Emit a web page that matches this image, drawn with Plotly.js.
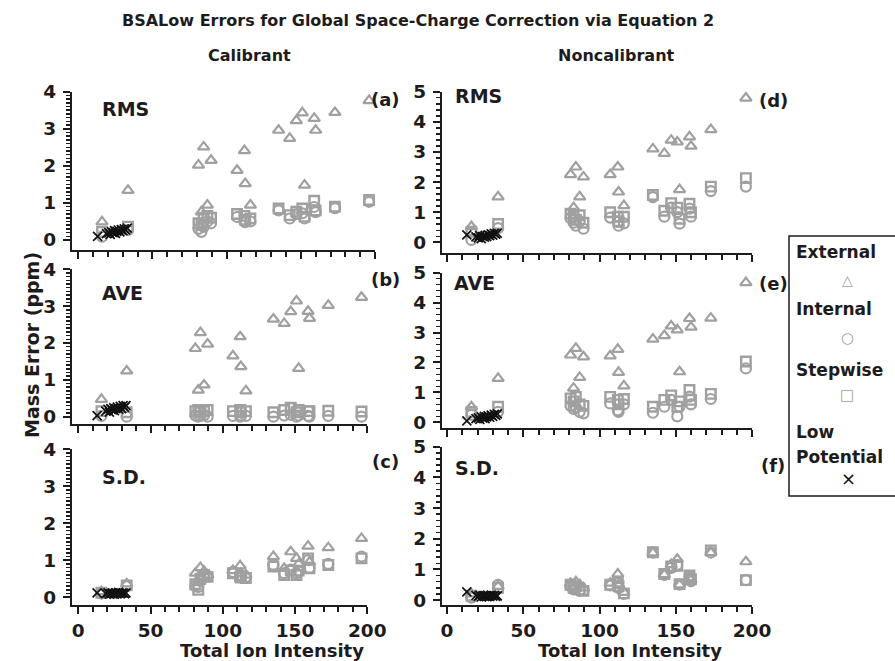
<!DOCTYPE html>
<html>
<head>
<meta charset="utf-8">
<script src="https://cdn.plot.ly/plotly-3.0.1.min.js"></script>
<style>html,body{margin:0;padding:0;background:#fff;}#chart{width:895px;height:661px;}</style>
</head>
<body>
<div id="chart"></div>
<script>
// ---------------- DATA ----------------
// Total ion intensity of each spectrum (shared by External / Internal / Stepwise)
const intensity = [16, 33.5, 81, 83, 84.5, 87, 89.5, 107, 112, 112.5, 116, 135, 142.5, 147, 151, 152.5, 159, 160, 173, 196];
// Low-potential spectra intensities
const lowX = [13, 19, 20.5, 21.5, 22.5, 23.5, 24.5, 25, 26, 27, 28, 29, 30, 31, 32, 33];

// Calibrant
const extRMS_cal = [0.49, 1.34, 2.02, 0.76, 2.51, 0.94, 2.15, 1.88, 2.41, 1.52, 0.94, 2.96, 2.74, 3.22, 3.43, 1.48, 3.28, 2.96, 3.44, 3.76];
const intRMS_cal = [0.09, 0.27, 0.30, 0.22, 0.35, 0.50, 0.45, 0.62, 0.50, 0.48, 0.50, 0.80, 0.58, 0.70, 0.72, 0.58, 0.89, 0.75, 0.86, 1.03];
const stpRMS_cal = [0.22, 0.36, 0.45, 0.40, 0.60, 0.65, 0.60, 0.70, 0.65, 0.55, 0.58, 0.85, 0.67, 0.76, 0.85, 0.63, 1.06, 0.80, 0.90, 1.08];
const lowRMS_cal = [0.10, 0.17, 0.20, 0.15, 0.22, 0.20, 0.25, 0.18, 0.23, 0.27, 0.22, 0.28, 0.25, 0.30, 0.27, 0.32];

const extAVE_cal = [0.47, 1.24, 1.85, 0.72, 2.28, 0.86, 1.97, 1.65, 2.17, 1.36, 0.70, 2.65, 2.53, 2.85, 3.14, 1.31, 2.86, 2.67, 3.02, 3.24];
const intAVE_cal = [0.02, 0.00, 0.03, 0.00, 0.02, 0.04, 0.00, 0.02, 0.00, 0.03, 0.02, 0.00, 0.03, 0.05, 0.00, 0.03, 0.02, 0.00, 0.02, 0.00];
const stpAVE_cal = [0.15, 0.12, 0.15, 0.18, 0.12, 0.15, 0.18, 0.15, 0.18, 0.12, 0.15, 0.12, 0.18, 0.24, 0.12, 0.18, 0.15, 0.15, 0.16, 0.14];
const lowAVE_cal = [0.03, 0.15, 0.20, 0.12, 0.22, 0.18, 0.24, 0.16, 0.22, 0.26, 0.20, 0.28, 0.22, 0.30, 0.25, 0.30];

const extSD_cal = [0.15, 0.36, 0.65, 0.40, 0.80, 0.70, 0.60, 0.72, 0.85, 0.65, 0.60, 1.10, 0.78, 1.23, 1.05, 0.90, 1.38, 0.95, 1.34, 1.59];
const intSD_cal = [0.10, 0.30, 0.30, 0.28, 0.45, 0.55, 0.58, 0.68, 0.60, 0.55, 0.55, 0.88, 0.65, 0.75, 0.65, 0.70, 1.00, 0.80, 0.90, 1.10];
const stpSD_cal = [0.12, 0.32, 0.35, 0.20, 0.50, 0.60, 0.55, 0.65, 0.55, 0.53, 0.52, 0.83, 0.60, 0.72, 0.60, 0.72, 1.05, 0.78, 0.87, 1.05];
const lowSD_cal = [0.12, 0.10, 0.12, 0.08, 0.10, 0.12, 0.10, 0.08, 0.12, 0.10, 0.13, 0.09, 0.11, 0.12, 0.10, 0.12];

// Noncalibrant
const extRMS_non = [0.52, 1.51, 2.25, 1.15, 2.50, 1.51, 2.17, 2.25, 2.50, 1.67, 1.22, 3.10, 2.95, 3.39, 3.33, 1.75, 3.50, 3.19, 3.74, 4.79];
const intRMS_non = [0.08, 0.47, 0.80, 0.65, 0.55, 0.70, 0.45, 0.82, 0.68, 0.55, 0.63, 1.50, 0.85, 1.15, 1.00, 0.62, 1.12, 0.85, 1.70, 1.85];
const stpRMS_non = [0.35, 0.61, 0.95, 0.85, 0.75, 0.90, 0.65, 1.00, 0.85, 0.70, 0.85, 1.57, 1.05, 1.30, 1.15, 0.78, 1.28, 1.00, 1.85, 2.13];
const lowRMS_non = [0.25, 0.18, 0.15, 0.22, 0.12, 0.20, 0.17, 0.23, 0.19, 0.25, 0.22, 0.28, 0.24, 0.30, 0.27, 0.30];

const extAVE_non = [0.52, 1.47, 2.25, 1.14, 2.47, 1.50, 2.19, 2.22, 2.44, 1.67, 1.22, 2.78, 2.90, 3.22, 3.09, 1.69, 3.47, 3.18, 3.48, 4.67];
const intAVE_non = [0.25, 0.35, 0.55, 0.45, 0.50, 0.35, 0.30, 0.63, 0.40, 0.35, 0.60, 0.32, 0.52, 0.75, 0.20, 0.52, 0.86, 0.60, 0.78, 1.80];
const stpAVE_non = [0.35, 0.52, 0.80, 0.70, 0.85, 0.60, 0.55, 0.85, 0.75, 0.60, 0.78, 0.52, 0.75, 0.90, 0.52, 0.70, 1.08, 0.75, 0.95, 2.03];
const lowAVE_non = [0.05, 0.12, 0.15, 0.10, 0.18, 0.14, 0.20, 0.12, 0.18, 0.22, 0.17, 0.24, 0.20, 0.27, 0.23, 0.28];

const extSD_non = [0.20, 0.45, 0.55, 0.45, 0.60, 0.50, 0.40, 0.55, 0.85, 0.50, 0.25, 1.54, 0.83, 1.16, 1.33, 0.50, 0.72, 0.66, 1.55, 1.25];
const intSD_non = [0.08, 0.50, 0.45, 0.35, 0.40, 0.30, 0.32, 0.48, 0.55, 0.40, 0.20, 1.55, 0.82, 1.05, 1.15, 0.50, 0.75, 0.62, 1.55, 0.65];
const stpSD_non = [0.14, 0.40, 0.50, 0.40, 0.45, 0.35, 0.30, 0.50, 0.60, 0.45, 0.22, 1.56, 0.85, 1.10, 1.12, 0.52, 0.80, 0.68, 1.62, 0.65];
const lowSD_non = [0.27, 0.15, 0.12, 0.16, 0.10, 0.14, 0.12, 0.15, 0.11, 0.14, 0.12, 0.16, 0.13, 0.15, 0.12, 0.14];

const seriesNames = ["External", "Internal", "Stepwise", "Low Potential"];
const panelStats = ["RMS", "AVE", "S.D."];
const panelTags = ["(a)", "(b)", "(c)", "(d)", "(e)", "(f)"];
const xTickVals = [0, 50, 100, 150, 200];

// ---------------- LAYOUT ----------------
const W = 895, H = 661;
const fx = p => p / W;
const fy = p => 1 - p / H;
const FONT = "DejaVu Sans";
const INK = "#1e1b1c";
const GREY = "#a0a0a0";

const panels = [
  {ext: extRMS_cal, int: intRMS_cal, stp: stpRMS_cal, low: lowRMS_cal, xd: [71.7, 375], xr: [-4.45, 200], yd: [91.7, 250], yr: [-0.27, 4], top: 4, minor: 0.1, labels: false},
  {ext: extAVE_cal, int: intAVE_cal, stp: stpAVE_cal, low: lowAVE_cal, xd: [71.7, 367.3], xr: [-4.57, 200], yd: [269.3, 424], yr: [-0.2, 4], top: 4, minor: 0.1, labels: false},
  {ext: extSD_cal,  int: intSD_cal,  stp: stpSD_cal,  low: lowSD_cal,  xd: [71.7, 367.3], xr: [-4.57, 200], yd: [449.3, 605], yr: [-0.21, 4], top: 4, minor: 0.1, labels: true},
  {ext: extRMS_non, int: intRMS_non, stp: stpRMS_non, low: lowRMS_non, xd: [441.7, 752], xr: [-3.48, 200], yd: [91.7, 253], yr: [-0.355, 5], top: 5, minor: 0.2, labels: false},
  {ext: extAVE_non, int: intAVE_non, stp: stpAVE_non, low: lowAVE_non, xd: [441.7, 752], xr: [-3.48, 200], yd: [272.7, 428.3], yr: [-0.2, 5], top: 5, minor: 0.2, labels: false},
  {ext: extSD_non,  int: intSD_non,  stp: stpSD_non,  low: lowSD_non,  xd: [441.7, 752], xr: [-3.48, 200], yd: [446.7, 605], yr: [-0.16, 5], top: 5, minor: 0.2, labels: true}
];

const traces = [];
const layout = {
  width: W, height: H,
  margin: {l: 0, r: 0, t: 0, b: 0},
  paper_bgcolor: "#ffffff", plot_bgcolor: "rgba(0,0,0,0)",
  showlegend: false,
  font: {family: FONT, color: INK},
  annotations: [], shapes: []
};

const tickFont = {family: FONT, size: 18.5, color: INK, weight: "bold"};

panels.forEach((p, i) => {
  const n = i + 1;
  const xa = n === 1 ? "x" : "x" + n;
  const ya = n === 1 ? "y" : "y" + n;
  const common = {xaxis: xa, yaxis: ya, mode: "markers", type: "scatter", hoverinfo: "skip", cliponaxis: false};
  traces.push(Object.assign({}, common, {name: seriesNames[0], x: intensity, y: p.ext,
    marker: {symbol: "triangle-up-open", size: 10, color: GREY, line: {width: 2.2, color: GREY}}}));
  traces.push(Object.assign({}, common, {name: seriesNames[1], x: intensity, y: p.int,
    marker: {symbol: "circle-open", size: 10, color: GREY, line: {width: 2.2, color: GREY}}}));
  traces.push(Object.assign({}, common, {name: seriesNames[2], x: intensity, y: p.stp,
    marker: {symbol: "square-open", size: 9.5, color: GREY, line: {width: 2.4, color: GREY}}}));
  traces.push(Object.assign({}, common, {name: seriesNames[3], x: lowX, y: p.low,
    marker: {symbol: "x-thin-open", size: 9, color: "#111", line: {width: 1.7, color: "#111"}}}));

  const minorVals = [];
  for (let k = 1; k * p.minor < p.top - 1e-9; k++) {
    const v = +(k * p.minor).toFixed(3);
    if (Math.abs(v - Math.round(v)) > 1e-6) minorVals.push(v);
  }
  const majorVals = [];
  for (let k = 0; k <= p.top; k++) majorVals.push(k);

  layout[n === 1 ? "xaxis" : "xaxis" + n] = {
    domain: [fx(p.xd[0]), fx(p.xd[1])], range: p.xr, anchor: ya,
    showgrid: false, zeroline: false, showline: true, linecolor: INK, linewidth: 2,
    tickmode: "array", tickvals: xTickVals, ticktext: xTickVals.map(String),
    showticklabels: p.labels,
    ticks: "outside", ticklen: 7, tickwidth: 2, tickcolor: INK,
    tickfont: tickFont, ticklabelstandoff: 1,
    minor: {dtick: 10, tick0: 0, ticks: "outside", ticklen: 5, tickwidth: 2, tickcolor: INK, showgrid: false},
    fixedrange: true
  };
  layout[n === 1 ? "yaxis" : "yaxis" + n] = {
    domain: [fy(p.yd[1]), fy(p.yd[0])], range: p.yr, anchor: xa,
    showgrid: false, zeroline: false, showline: true, linecolor: INK, linewidth: 2,
    tickmode: "array", tickvals: majorVals, ticktext: majorVals.map(String),
    ticks: "outside", ticklen: 7, tickwidth: 2, tickcolor: INK,
    tickfont: tickFont, ticklabelstandoff: 3,
    minor: {tickmode: "array", tickvals: minorVals, ticks: "outside", ticklen: 4, tickwidth: 1.5, tickcolor: INK, showgrid: false},
    fixedrange: true
  };
});

function ann(text, x, y, size, opts) {
  layout.annotations.push(Object.assign({
    text: text, x: fx(x), y: fy(y), xref: "paper", yref: "paper",
    showarrow: false, xanchor: "center", yanchor: "middle",
    font: {family: FONT, size: size, color: INK, weight: "bold"}
  }, opts || {}));
}

// Titles
ann("BSALow Errors for Global Space-Charge Correction via Equation 2", 418, 21, 16);
ann("Calibrant", 250, 55, 16);
ann("Noncalibrant", 616, 55, 16);
ann("Total Ion Intensity", 272, 650, 18);
ann("Total Ion Intensity", 630, 650, 18);
ann("Mass Error (ppm)", 32, 345, 19, {textangle: -90});

// Panel stat labels
ann(panelStats[0], 126, 109, 19);
ann(panelStats[1], 122, 293, 19);
ann(panelStats[2], 124, 477, 19);
ann(panelStats[0], 478, 96, 19);
ann(panelStats[1], 474, 283, 19);
ann(panelStats[2], 477, 468, 19);
// Panel tags
ann(panelTags[0], 385, 99, 18);
ann(panelTags[1], 385, 280, 18);
ann(panelTags[2], 385, 461, 18);
ann(panelTags[3], 773, 101, 18);
ann(panelTags[4], 773, 283, 18);
ann(panelTags[5], 773, 465, 18);

// Legend box
layout.shapes.push({type: "rect", xref: "paper", yref: "paper",
  x0: fx(789), x1: fx(900), y0: fy(496), y1: fy(236),
  line: {color: INK, width: 1.5}, fillcolor: "rgba(0,0,0,0)"});
ann(seriesNames[0], 794, 252, 17, {xanchor: "left"});
ann("\u25B3", 847, 280, 14, {font: {family: FONT, size: 14, color: GREY}});
ann(seriesNames[1], 794, 309, 17, {xanchor: "left"});
ann("\u25CB", 847, 338, 15, {font: {family: FONT, size: 15, color: GREY}});
ann(seriesNames[2], 794, 370, 17, {xanchor: "left"});
ann("\u25A1", 847, 395, 15, {font: {family: FONT, size: 15, color: GREY}});
ann("Low", 794, 432, 17, {xanchor: "left"});
ann("Potential", 794, 457, 17, {xanchor: "left"});
ann("\u00D7", 848, 478, 18, {font: {family: FONT, size: 18, color: "#111"}});

Plotly.newPlot("chart", traces, layout, {displayModeBar: false, staticPlot: true});
</script>
</body>
</html>
